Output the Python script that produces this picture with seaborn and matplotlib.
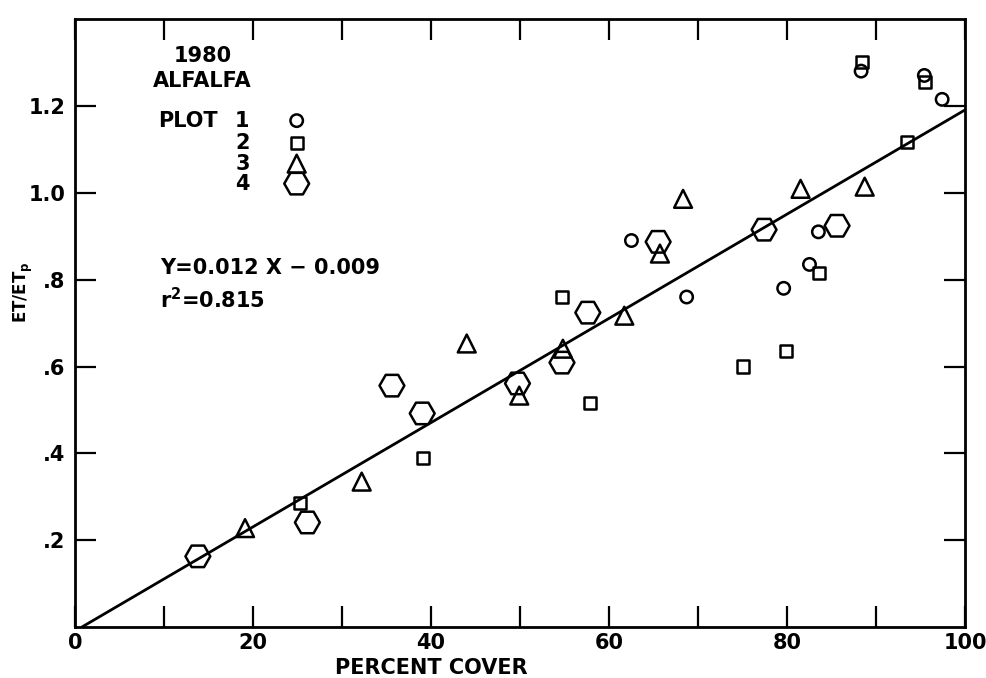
import matplotlib
matplotlib.use("Agg")
import matplotlib.pyplot as plt
import seaborn as sns
import numpy as np

# ------------------------------------------------------
# data (percent cover vs ET/ETp)
# ------------------------------------------------------
plot1_x = [62.5, 68.7, 79.6, 82.5, 83.5, 88.3, 95.4, 97.4]
plot1_y = [0.89, 0.76, 0.78, 0.835, 0.91, 1.28, 1.27, 1.215]

plot2_x = [25.3, 39.1, 54.7, 57.8, 75.0, 79.9, 83.6, 88.4, 93.5, 95.5]
plot2_y = [0.285, 0.39, 0.76, 0.515, 0.60, 0.635, 0.815, 1.30, 1.117, 1.255]

plot3_x = [19.1, 32.2, 44.0, 49.9, 54.8, 61.7, 65.7, 68.3, 81.5, 88.7]
plot3_y = [0.228, 0.335, 0.653, 0.533, 0.641, 0.717, 0.86, 0.986, 1.009, 1.014]

plot4_x = [13.8, 26.1, 35.6, 39.0, 49.7, 54.7, 57.6, 65.5, 77.4, 85.6]
plot4_y = [0.163, 0.241, 0.556, 0.492, 0.561, 0.609, 0.724, 0.887, 0.915, 0.924]

slope = 0.012
intercept = -0.009
fit_x = [0.75, 100]

x_ticks = list(range(0, 101, 10))
x_labels = ["0", "", "20", "", "40", "", "60", "", "80", "", "100"]
y_ticks = [0.2, 0.4, 0.6, 0.8, 1.0, 1.2]
y_labels = [".2", ".4", ".6", ".8", "1.0", "1.2"]

legend_nums = ["1", "2", "3", "4"]
legend_y = [1.166, 1.115, 1.067, 1.021]

# ------------------------------------------------------
# style
# ------------------------------------------------------
sns.set_style("ticks")
plt.rcParams["font.family"] = ["DejaVu Sans"]
plt.rcParams["font.weight"] = "bold"
plt.rcParams["text.color"] = "black"
plt.rcParams["axes.labelcolor"] = "black"
plt.rcParams["xtick.color"] = "black"
plt.rcParams["ytick.color"] = "black"

fig = plt.figure(figsize=(9.87, 6.78), dpi=100)
ax = fig.add_axes([0.076, 0.075, 0.902, 0.897])

series = [
    (plot1_x, plot1_y, "o", 80),
    (plot2_x, plot2_y, "s", 75),
    (plot3_x, plot3_y, "^", 165),
    (plot4_x, plot4_y, "H", 320),
]
for xs, ys, mk, size in series:
    sns.scatterplot(x=xs, y=ys, marker=mk, s=size, facecolor="none",
                    edgecolor="black", linewidth=1.8, ax=ax, zorder=3)

fit_y = [slope * v + intercept for v in fit_x]
sns.lineplot(x=fit_x, y=fit_y, color="black", linewidth=2.0, ax=ax)

ax.set_xlim(0, 100)
ax.set_ylim(0, 1.4)
ax.set_xticks(x_ticks)
ax.set_xticklabels(x_labels)
ax.set_yticks(y_ticks)
ax.set_yticklabels(y_labels)
ax.tick_params(axis="both", direction="in", length=15, width=1.6,
               top=True, right=True, labelsize=15)
ax.tick_params(axis="x", pad=4)
ax.tick_params(axis="y", pad=7)
for sp in ax.spines.values():
    sp.set_linewidth(2)
    sp.set_color("black")

ax.set_xlabel("PERCENT COVER", fontsize=15, fontweight="bold")
ax.xaxis.set_label_coords(0.40, -0.05)
ax.set_ylabel("ET/ET$_\\mathbf{p}$", fontsize=12, fontweight="bold")
ax.yaxis.set_label_coords(-0.045, 0.55)

# annotations
ax.text(14.3, 1.315, "1980", fontsize=15, fontweight="bold", ha="center", va="center")
ax.text(14.3, 1.258, "ALFALFA", fontsize=15, fontweight="bold", ha="center", va="center")
ax.text(9.3, legend_y[0], "PLOT", fontsize=15, fontweight="bold", ha="left", va="center")
legend_marks = [("o", 80), ("s", 75), ("^", 165), ("H", 320)]
for num, yy, (mk, size) in zip(legend_nums, legend_y, legend_marks):
    ax.text(18.8, yy, num, fontsize=15, fontweight="bold", ha="center", va="center")
    ax.scatter([24.9], [yy], marker=mk, s=size, facecolor="none",
               edgecolor="black", linewidth=1.8)

ax.text(9.6, 0.827, "Y=0.012 X \u2212 0.009", fontsize=15, fontweight="bold",
        ha="left", va="center")
ax.text(9.6, 0.754, "r$^\\mathbf{2}$=0.815", fontsize=15, fontweight="bold",
        ha="left", va="center")

plt.savefig("out.png", dpi=100)
